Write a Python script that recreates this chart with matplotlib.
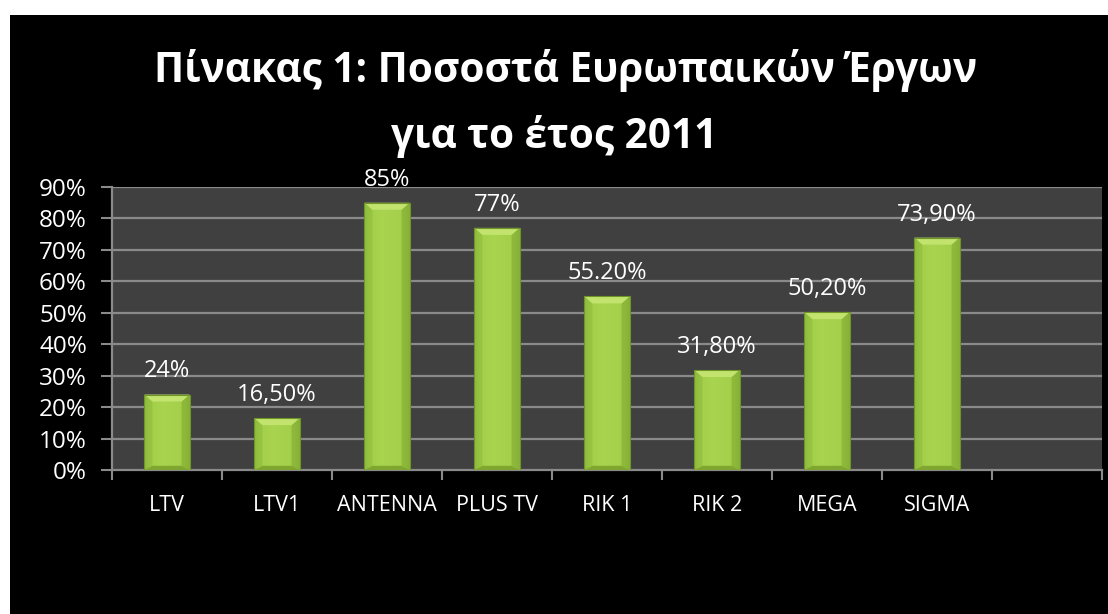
import matplotlib
matplotlib.use("Agg")
import matplotlib.pyplot as plt
import numpy as np
from matplotlib.patches import Rectangle, Polygon
from matplotlib.colors import LinearSegmentedColormap

categories = ["LTV", "LTV1", "ANTENNA", "PLUS TV", "RIK 1", "RIK 2", "MEGA", "SIGMA", ""]
values = [24, 16.5, 85, 77, 55.2, 31.8, 50.2, 73.9, None]
value_labels = ["24%", "16,50%", "85%", "77%", "55.20%", "31,80%", "50,20%", "73,90%", ""]
yticks = [0, 10, 20, 30, 40, 50, 60, 70, 80, 90]
ytick_labels = [f"{t}%" for t in yticks]
title_lines = ["Πίνακας 1: Ποσοστά Ευρωπαικών Έργων", "για το έτος 2011"]

plt.rcParams['font.family'] = ['Open Sans', 'DejaVu Sans']

W, H = 1108, 614
fig = plt.figure(figsize=(W / 100, H / 100), dpi=100, facecolor="white")
# black slide background
bg = fig.add_axes([10 / W, 0, 1 - 10 / W, (H - 15) / H], zorder=-10)
bg.set_facecolor("black")
bg.set_xticks([]); bg.set_yticks([])
for s in bg.spines.values():
    s.set_visible(False)

ax = fig.add_axes([112 / W, (H - 470) / H, (1102 - 112) / W, (470 - 187) / H], zorder=1)
ax.set_facecolor("#404040")

n = len(categories)
x = np.arange(n)
bw = 0.41

# grid
for t in yticks[1:]:
    ax.axhline(t, color="#8a8a8a", lw=1.6, zorder=1)

cmap = LinearSegmentedColormap.from_list("g", ["#86b236", "#a0cc47", "#a9d44f", "#a2ce49", "#8ab63a"])
xs = np.linspace(0, 1, 64)
prof = np.interp(xs, [0, 0.15, 0.5, 0.85, 1], [0.0, 0.35, 0.55, 0.7, 1.0])
grad = np.tile(prof, (32, 1))

px_x = 1.0 / 110.0   # data units per pixel (x)
px_y = 90.0 / 283.0  # data units per pixel (y)
bx = 8 * px_x
by = 7 * px_y

for xi, v in zip(x, values):
    if v is None:
        continue
    x0, x1 = xi - bw / 2, xi + bw / 2
    bar = ax.bar(xi, v, width=bw, color="#a2cd48", edgecolor="none", zorder=3)[0]
    im = ax.imshow(grad, extent=[x0, x1, 0, v], aspect="auto", cmap=cmap,
                   zorder=3.1, origin="lower")
    im.set_clip_path(bar)
    ax.add_patch(Polygon([(x0, v), (x1, v), (x1 - bx, v - by), (x0 + bx, v - by)],
                         closed=True, facecolor="#c2e46e", edgecolor="none", zorder=3.3))
    ax.add_patch(Polygon([(x0, 0), (x0, v), (x0 + bx, v - by), (x0 + bx, by * 0.6)],
                         closed=True, facecolor="#93bf40", edgecolor="none", alpha=0.7, zorder=3.2))
    ax.add_patch(Polygon([(x1, 0), (x1, v), (x1 - bx, v - by), (x1 - bx, by * 0.6)],
                         closed=True, facecolor="#86b034", edgecolor="none", alpha=0.7, zorder=3.2))
    ax.add_patch(Polygon([(x0, 0), (x1, 0), (x1 - bx, by * 0.6), (x0 + bx, by * 0.6)],
                         closed=True, facecolor="#7fa730", edgecolor="none", zorder=3.2))
    ax.add_patch(Rectangle((x0, 0), bw, v, facecolor="none", edgecolor="#6f9428",
                           lw=0.8, zorder=3.4))

for xi, v, lab in zip(x, values, value_labels):
    if v is None:
        continue
    ax.annotate(lab, (xi, v), xytext=(0, 8), textcoords="offset points",
                ha="center", va="bottom", color="white", fontsize=17, zorder=5,
                annotation_clip=False)

ax.set_xlim(-0.5, n - 0.5)
ax.set_ylim(0, 90)
ax.set_yticks(yticks)
ax.set_yticklabels(ytick_labels)
ax.set_xticks(x)
ax.set_xticklabels(categories)
ax.set_xticks(np.arange(n + 1) - 0.5, minor=True)
ax.tick_params(axis="x", which="major", length=0, pad=18, colors="white", labelsize=15.5)
ax.tick_params(axis="x", which="minor", length=7, width=1.5, color="#8a8a8a", direction="out")
ax.tick_params(axis="y", length=8, width=1.5, color="#8a8a8a", pad=10, colors="white", labelsize=17.5)
for s in ["top", "right"]:
    ax.spines[s].set_visible(False)
for s in ["left", "bottom"]:
    ax.spines[s].set_color("#8a8a8a")
    ax.spines[s].set_linewidth(1.6)

fig.text(0.51, (H - 82) / H, title_lines[0], ha="center", va="baseline", color="white",
         fontsize=29.2, fontweight="bold")
fig.text(0.5, (H - 148) / H, title_lines[1], ha="center", va="baseline", color="white",
         fontsize=29.2, fontweight="bold")

fig.savefig("out.png", dpi=100, facecolor=fig.get_facecolor())
